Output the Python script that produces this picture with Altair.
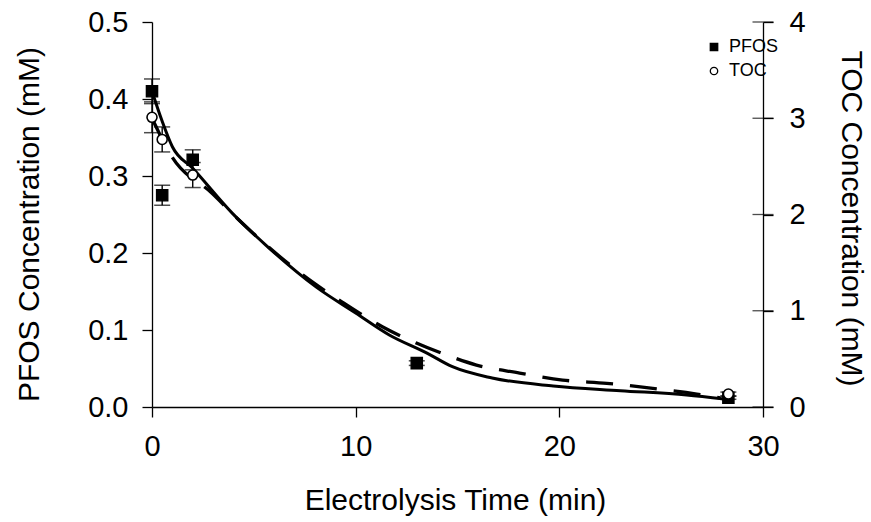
import altair as alt
import pandas as pd

FONT = "Liberation Sans"

# ---- measured data (PFOS, left axis, mM) ----
t_pfos = [0, 0.5, 2, 13, 28.3]
pfos = [0.41, 0.275, 0.321, 0.057, 0.012]
pfos_err = [0.016, 0.013, 0.013, 0.003, 0.002]

# ---- measured data (TOC, right axis, mM) ----
t_toc = [0, 0.5, 2, 28.3]
toc = [3.01, 2.78, 2.41, 0.135]
toc_err = [0.16, 0.13, 0.13, 0.02]

# ---- fitted curves ----
fit_t_pfos = [0, 0.5, 1.0, 2.0, 3.95, 5.6, 8.05, 10.0, 11.65, 13.5, 14.75, 16.7, 19.7, 23.0, 26.25, 28.1]
fit_pfos = [0.41, 0.371, 0.338, 0.31, 0.2515, 0.21, 0.156, 0.122, 0.0935, 0.07, 0.0523, 0.0377, 0.0273, 0.0212, 0.0156, 0.0104]

fit_t_toc = [0, 0.98, 2.95, 4.28, 7.87, 9.34, 11.31, 12.98, 14.46, 15.93, 18.05, 20.16, 22.33, 24.59, 26.75, 27.9]
fit_toc = [3.0, 2.6, 2.22, 1.94, 1.30, 1.09, 0.834, 0.665, 0.54, 0.436, 0.353, 0.28, 0.246, 0.194, 0.135, 0.094]

# axis tick values
x_ticks = [0, 10, 20, 30]
left_ticks = [0.0, 0.1, 0.2, 0.3, 0.4, 0.5]
right_ticks = [0, 1, 2, 3, 4]

series = ["PFOS", "TOC"]

df_p = pd.DataFrame({"t": t_pfos, "v": pfos, "series": "PFOS"})
df_p["lo"] = [v - e for v, e in zip(pfos, pfos_err)]
df_p["hi"] = [v + e for v, e in zip(pfos, pfos_err)]
df_c = pd.DataFrame({"t": t_toc, "v": toc, "series": "TOC"})
df_c["lo"] = [v - e for v, e in zip(toc, toc_err)]
df_c["hi"] = [v + e for v, e in zip(toc, toc_err)]
df_fp = pd.DataFrame({"t": fit_t_pfos, "v": fit_pfos})
df_fc = pd.DataFrame({"t": fit_t_toc, "v": fit_toc})
df_rt = pd.DataFrame({"v": right_ticks})

x_enc = alt.X(
    "t:Q",
    scale=alt.Scale(domain=[0, 30], nice=False, zero=False),
    axis=alt.Axis(
        values=x_ticks, tickSize=10, labelPadding=29, labelFontSize=29,
        labelBaseline="middle", labelFlush=False,
        title="Electrolysis Time (min)", titleFontSize=30,
        titleX=303, titleY=93, titleBaseline="middle",
    ),
)

left_axis = alt.Axis(
    orient="left", values=left_ticks, format=".1f", tickSize=10,
    labelPadding=14, labelFontSize=29, labelBaseline="middle", labelFlush=False,
    title="PFOS Concentration (mM)", titleFontSize=30, titleAngle=270,
    titleX=-123, titleY=202, titleBaseline="middle",
)
right_axis = alt.Axis(
    orient="right", values=right_ticks, format="d", tickSize=10,
    labelPadding=16, labelFontSize=29, labelBaseline="middle", labelFlush=False,
    title="TOC Concentration (mM)", titleFontSize=30, titleAngle=90,
    titleX=87, titleY=196, titleBaseline="middle",
)
ls = alt.Scale(domain=[0, 0.5], nice=False, zero=True)
rs = alt.Scale(domain=[0, 4], nice=False, zero=True)


def leg():
    return alt.Legend(
        title=None, orient="none", legendX=553, legendY=16, padding=0,
        labelFont=FONT, labelFontSize=18, labelColor="black",
        symbolSize=55, symbolStrokeWidth=1.3,
        rowPadding=6, labelOffset=6,
    )


shape_enc = alt.Shape("series:N", scale=alt.Scale(domain=series, range=["square", "circle"]), legend=leg())
fill_enc = alt.Fill("series:N", scale=alt.Scale(domain=series, range=["black", "white"]), legend=leg())
stroke_enc = alt.Stroke("series:N", scale=alt.Scale(domain=series, range=["black", "black"]), legend=leg())

# ---- PFOS group (left axis) ----
p_line = alt.Chart(df_fp).mark_line(color="black", strokeWidth=3, interpolate="monotone").encode(
    x=x_enc, y=alt.Y("v:Q", scale=ls, axis=left_axis)
)
p_rule = alt.Chart(df_p).mark_rule(color="black", strokeWidth=1.4).encode(
    x=x_enc, y=alt.Y("lo:Q", scale=ls, axis=left_axis), y2="hi:Q"
)
p_caps = alt.Chart(df_p).transform_fold(["lo", "hi"], as_=["k", "e"]).mark_tick(
    orient="horizontal", size=16, thickness=1.5, color="black"
).encode(x=x_enc, y=alt.Y("e:Q", scale=ls, axis=left_axis))
p_pts = alt.Chart(df_p).mark_point(size=125, strokeWidth=1.4, opacity=1).encode(
    x=x_enc, y=alt.Y("v:Q", scale=ls, axis=left_axis), shape=shape_enc, fill=fill_enc, stroke=stroke_enc
)
pfos_layer = alt.layer(p_line, p_rule, p_caps, p_pts)

# ---- TOC group (right axis) ----
c_line = alt.Chart(df_fc).mark_line(
    color="black", strokeWidth=3.3, strokeDash=[27, 17], interpolate="monotone"
).encode(x=x_enc, y=alt.Y("v:Q", scale=rs, axis=right_axis))
c_rule = alt.Chart(df_c).mark_rule(color="black", strokeWidth=1.4).encode(
    x=x_enc, y=alt.Y("lo:Q", scale=rs, axis=right_axis), y2="hi:Q"
)
c_caps = alt.Chart(df_c).transform_fold(["lo", "hi"], as_=["k", "e"]).mark_tick(
    orient="horizontal", size=16, thickness=1.5, color="black"
).encode(x=x_enc, y=alt.Y("e:Q", scale=rs, axis=right_axis))
c_pts = alt.Chart(df_c).mark_point(size=100, strokeWidth=1.6, opacity=1).encode(
    x=x_enc, y=alt.Y("v:Q", scale=rs, axis=right_axis), shape=shape_enc, fill=fill_enc, stroke=stroke_enc
)
c_ticks = alt.Chart(df_rt).mark_tick(orient="horizontal", size=21, thickness=1.3, color="black").encode(
    x=alt.datum(30, scale=alt.Scale(domain=[0, 30], nice=False, zero=False)),
    y=alt.Y("v:Q", scale=rs, axis=right_axis),
)
toc_layer = alt.layer(c_line, c_rule, c_caps, c_pts, c_ticks)

chart = (
    alt.layer(pfos_layer, toc_layer)
    .resolve_scale(y="independent")
    .properties(
        width=611, height=385,
        padding={"left": 152, "top": 22, "right": 108, "bottom": 115},
        autosize=alt.AutoSizeParams(type="none"),
        background="white",
    )
    .configure_axis(
        domainColor="black", tickColor="black", labelColor="black", titleColor="black",
        grid=False, labelFont=FONT, titleFont=FONT, titleFontWeight="normal",
        domainWidth=1.3, tickWidth=1.3,
    )
    .configure_view(stroke=None)
)

chart.save("out.html", embed_options={"renderer": "svg", "actions": False})
